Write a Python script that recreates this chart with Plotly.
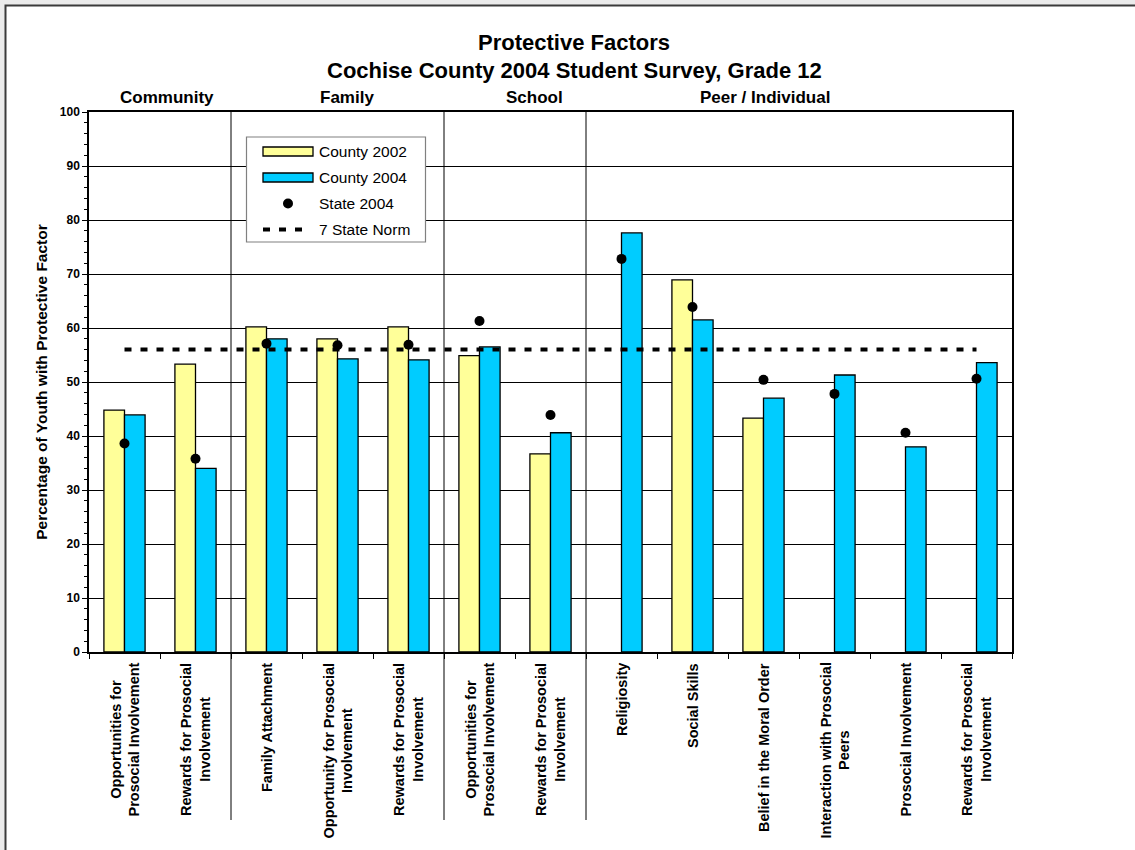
import plotly.graph_objects as go

# ---------------- data ----------------
categories = [
    "Opportunities for<br>Prosocial Involvement",
    "Rewards for Prosocial<br>Involvement",
    "Family Attachment",
    "Opportunity for Prosocial<br>Involvement",
    "Rewards for Prosocial<br>Involvement",
    "Opportunities for<br>Prosocial Involvement",
    "Rewards for Prosocial<br>Involvement",
    "Religiosity",
    "Social Skills",
    "Belief in the Moral Order",
    "Interaction with Prosocial<br>Peers",
    "Prosocial Involvement",
    "Rewards for Prosocial<br>Involvement",
]
county_2002 = [44.8, 53.3, 60.2, 58.0, 60.2, 54.9, 36.7, None, 68.9, 43.3, None, None, None]
county_2004 = [43.9, 34.0, 58.0, 54.3, 54.1, 56.5, 40.6, 77.6, 61.5, 47.0, 51.3, 38.0, 53.6]
state_2004 = [38.6, 35.8, 57.1, 56.8, 56.9, 61.3, 43.9, 72.8, 63.9, 50.4, 47.8, 40.6, 50.6]
state_norm = [56.0, 56.0, 56.0, 56.0, 56.0, 56.0, 56.0, 56.0, 56.0, 56.0, 56.0, 56.0, 56.0]

series_names = ["County 2002", "County 2004", "State 2004", "7 State Norm"]
group_names = ["Community", "Family", "School", "Peer / Individual"]
group_sizes = [2, 3, 2, 6]
y_ticks = [0, 10, 20, 30, 40, 50, 60, 70, 80, 90, 100]
title_lines = ["Protective Factors", "Cochise County 2004 Student Survey, Grade 12"]
y_title = "Percentage of Youth with Protective Factor"

# ---------------- layout constants ----------------
W, H = 1135, 850
L, R, T, B = 89, 123, 112, 198
PW, PH = W - L - R, H - T - B
FONT = "Liberation Sans, Arial, sans-serif"
BAR_W = 0.29
YELLOW = "#FFFF99"
CYAN = "#00CCFF"
DASH = "7px,9px"


def pxx(px):
    return (px - L) / PW


def pxy(py):
    return (H - B - py) / PH


x_idx = list(range(len(categories)))

fig = go.Figure()
fig.add_trace(go.Bar(
    x=x_idx, y=county_2002, name=series_names[0], width=BAR_W, offset=-BAR_W,
    marker=dict(color=YELLOW, line=dict(color="black", width=1.3)),
))
fig.add_trace(go.Bar(
    x=x_idx, y=county_2004, name=series_names[1], width=BAR_W, offset=0,
    marker=dict(color=CYAN, line=dict(color="black", width=1.3)),
))
fig.add_trace(go.Scatter(
    x=x_idx, y=state_norm, name=series_names[3], mode="lines",
    line=dict(color="black", width=4, dash=DASH),
))
fig.add_trace(go.Scatter(
    x=x_idx, y=state_2004, name=series_names[2], mode="markers",
    marker=dict(color="black", size=10),
))

shapes = []
# white framed panel
shapes.append(dict(
    type="rect", xref="paper", yref="paper",
    x0=pxx(5.5), x1=pxx(1150), y0=pxy(870), y1=pxy(5.5),
    fillcolor="white", line=dict(color="#3a3a3a", width=2), layer="below",
))
# group separators
bound = -0.5
group_bounds = []
for s in group_sizes:
    bound += s
    group_bounds.append(bound)
for gb in group_bounds[:-1]:
    shapes.append(dict(
        type="line", xref="x", yref="paper", x0=gb, x1=gb,
        y0=pxy(820), y1=1, line=dict(color="black", width=1), layer="above",
    ))

annotations = []
# title lines
for txt, yc in zip(title_lines, [42, 70]):
    annotations.append(dict(
        x=pxx(574), y=pxy(yc), xref="paper", yref="paper", text=txt,
        showarrow=False, xanchor="center", yanchor="middle",
        font=dict(family=FONT, size=22, color="black", weight="bold"),
    ))
# category labels
for i, c in enumerate(categories):
    annotations.append(dict(
        x=i, y=pxy(661), xref="x", yref="paper", text=c,
        showarrow=False, textangle=-90, xanchor="center", yanchor="top", align="center",
        font=dict(family=FONT, size=14.5, color="black", weight="bold"),
    ))
# group labels
group_label_x = [0.6, 3.13, 5.78, 9.02]
for name, gx in zip(group_names, group_label_x):
    annotations.append(dict(
        x=gx, y=pxy(97), xref="x", yref="paper", text=name,
        showarrow=False, xanchor="center", yanchor="middle",
        font=dict(family=FONT, size=17, color="black", weight="bold"),
    ))

# ---------- hand-drawn legend (matches the boxed legend of the original) ----------
LG_X0, LG_X1, LG_Y0, LG_Y1 = 246.5, 425.5, 137, 242
shapes.append(dict(
    type="rect", xref="paper", yref="paper",
    x0=pxx(LG_X0), x1=pxx(LG_X1), y0=pxy(LG_Y1), y1=pxy(LG_Y0),
    fillcolor="white", line=dict(color="#808080", width=1.2), layer="above",
))
row_y = [151.5, 177.5, 203.5, 229.5]
sw_x0, sw_x1 = 263, 313
for col, ry in zip([YELLOW, CYAN], row_y[:2]):
    shapes.append(dict(
        type="rect", xref="paper", yref="paper",
        x0=pxx(sw_x0), x1=pxx(sw_x1), y0=pxy(ry + 4.5), y1=pxy(ry - 4.5),
        fillcolor=col, line=dict(color="black", width=1.3), layer="above",
    ))
shapes.append(dict(
    type="circle", xref="paper", yref="paper",
    x0=pxx(288 - 5), x1=pxx(288 + 5), y0=pxy(row_y[2] + 5), y1=pxy(row_y[2] - 5),
    fillcolor="black", line=dict(color="black", width=0), layer="above",
))
shapes.append(dict(
    type="line", xref="paper", yref="paper",
    x0=pxx(sw_x0), x1=pxx(sw_x1 - 2), y0=pxy(row_y[3]), y1=pxy(row_y[3]),
    line=dict(color="black", width=4, dash=DASH), layer="above",
))
for name, ry in zip(series_names, row_y):
    annotations.append(dict(
        x=pxx(317), y=pxy(ry), xref="paper", yref="paper", text=name,
        showarrow=False, xanchor="left", yanchor="middle",
        font=dict(family=FONT, size=15.5, color="black"),
    ))

fig.update_layout(
    width=W, height=H,
    margin=dict(l=L, r=R, t=T, b=B, autoexpand=False),
    paper_bgcolor="#EBEBEB", plot_bgcolor="white",
    font=dict(family=FONT, color="black"),
    barmode="overlay",
    showlegend=False,
    xaxis=dict(
        range=[-0.5, len(categories) - 0.5], showgrid=False, zeroline=False,
        tickmode="array", tickvals=[b - 0.5 for b in range(len(categories) + 1)],
        showticklabels=False, ticks="outside", ticklen=5, tickcolor="black", tickwidth=1,
        showline=True, linecolor="black", linewidth=2, mirror=True,
    ),
    yaxis=dict(
        range=[0, 100], tickmode="array", tickvals=y_ticks,
        showgrid=True, gridcolor="black", gridwidth=1, zeroline=False,
        ticks="outside", ticklen=5, tickcolor="black", tickwidth=1,
        minor=dict(dtick=2, ticks="outside", ticklen=3, tickcolor="black", showgrid=False),
        showline=True, linecolor="black", linewidth=1.5, mirror=True,
        tickfont=dict(family=FONT, size=12, color="black", weight="bold"),
        title=dict(text=y_title, standoff=8,
                   font=dict(family=FONT, size=15.5, color="black", weight="bold")),
    ),
    shapes=shapes,
    annotations=annotations,
)

fig.write_html(
    "out.html",
    config={"displayModeBar": False},
    post_script="document.body.style.margin='0';document.body.style.background='#EBEBEB';",
)
